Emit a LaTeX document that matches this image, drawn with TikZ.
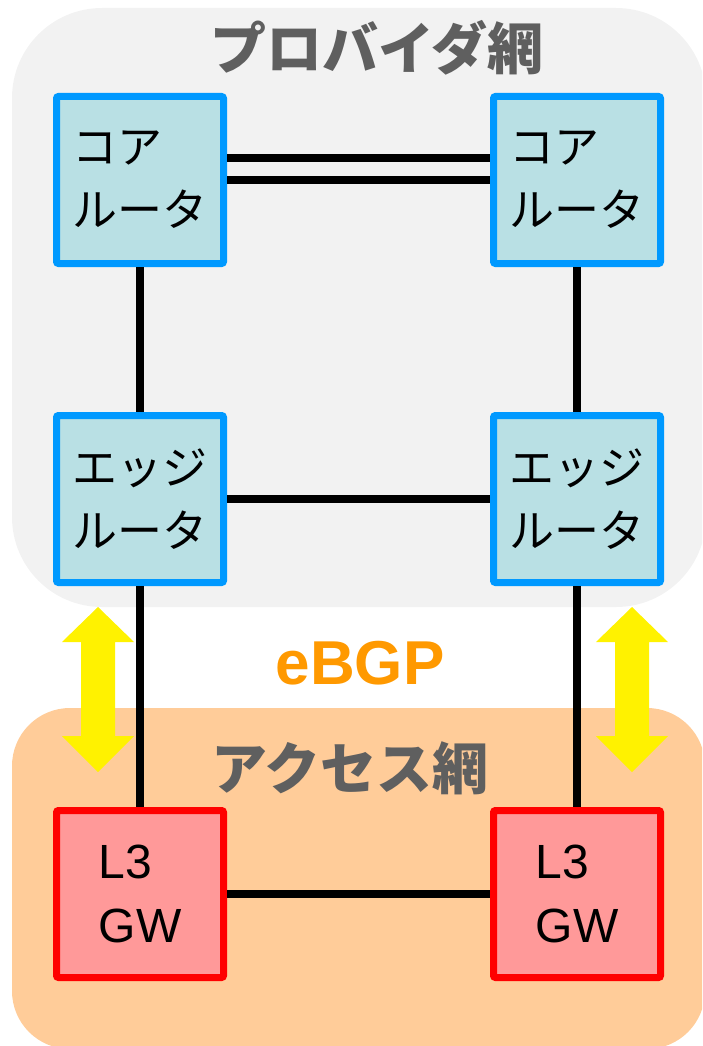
\documentclass[tikz,border=0pt]{standalone}
\usepackage{fontspec}
\setmainfont{Liberation Sans}
\newfontfamily\jpfont{Noto Sans CJK JP}
\usetikzlibrary{positioning}
\definecolor{providerbg}{HTML}{F2F2F2}
\definecolor{accessbg}{HTML}{FFCC99}
\definecolor{routerfill}{HTML}{B9E0E4}
\definecolor{routerline}{HTML}{0099FF}
\definecolor{gwfill}{HTML}{FF9999}
\definecolor{titlegray}{HTML}{5F5F5F}
\definecolor{bgporange}{HTML}{FF9900}

\begin{document}
\begin{tikzpicture}[x=1pt, y=-1pt,
    router/.style={rectangle, draw=routerline, fill=routerfill, line width=7pt, rounded corners=2pt,
        minimum width=167pt, minimum height=167pt, align=left, font=\jpfont\fontsize{45}{63}\selectfont},
    gateway/.style={rectangle, draw=red, fill=gwfill, line width=7pt, rounded corners=2pt,
        minimum width=167pt, minimum height=167pt, align=left, font=\fontsize{48}{64}\selectfont},
    link/.style={line width=8pt},
    areatitle/.style={text=titlegray, font=\jpfont\bfseries\fontsize{56}{60}\selectfont},
    bgparrow/.style={fill=yellow}]
    \useasboundingbox (0,0) rectangle (702,1046);
    % areas
    \begin{scope}
        \clip (0,0) rectangle (702,1046);
        \fill[providerbg, rounded corners=90pt] (12,8) rectangle (706,607);
        \fill[accessbg, rounded corners=58pt] (12,708) rectangle (705,1049);
    \end{scope}
    \node (provider) [areatitle] at (377,48) {プロバイダ網};
    \node (access) [areatitle] at (350,768) {アクセス網};
    \node (ebgp) [text=bgporange, font=\bfseries\fontsize{62}{64}\selectfont] at (360,663) {eBGP};
    % nodes
    \node (coreL) [router] at (140,180) {コア\\ルータ};
    \node (coreR) [router, right=263pt of coreL] {コア\\ルータ};
    \node (edgeL) [router, below=145pt of coreL] {エッジ\\ルータ};
    \node (edgeR) [router, below=145pt of coreR] {エッジ\\ルータ};
    \node (gwL) [gateway, below=221pt of edgeL] {L3\\GW};
    \node (gwR) [gateway, below=221pt of edgeR] {L3\\GW};
    % links
    \draw[link] ([yshift=22pt]coreL.east) -- ([yshift=22pt]coreR.west);
    \draw[link] (coreL.east) -- (coreR.west);
    \draw[link] (coreL) -- (edgeL);
    \draw[link] (coreR) -- (edgeR);
    \draw[link] (edgeL) -- (edgeR);
    \draw[link] (edgeL) -- (gwL);
    \draw[link] (edgeR) -- (gwR);
    \draw[link] (gwL) -- (gwR);
    % eBGP arrows
    \fill[bgparrow] (98,607) -- (134,642) -- (115,642) -- (115,736) -- (134,736) -- (98,772)
        -- (62,736) -- (81,736) -- (81,642) -- (62,642) -- cycle;
    \fill[bgparrow] (632,607) -- (668,642) -- (649,642) -- (649,736) -- (668,736) -- (632,772)
        -- (596,736) -- (615,736) -- (615,642) -- (596,642) -- cycle;
\end{tikzpicture}
\end{document}
